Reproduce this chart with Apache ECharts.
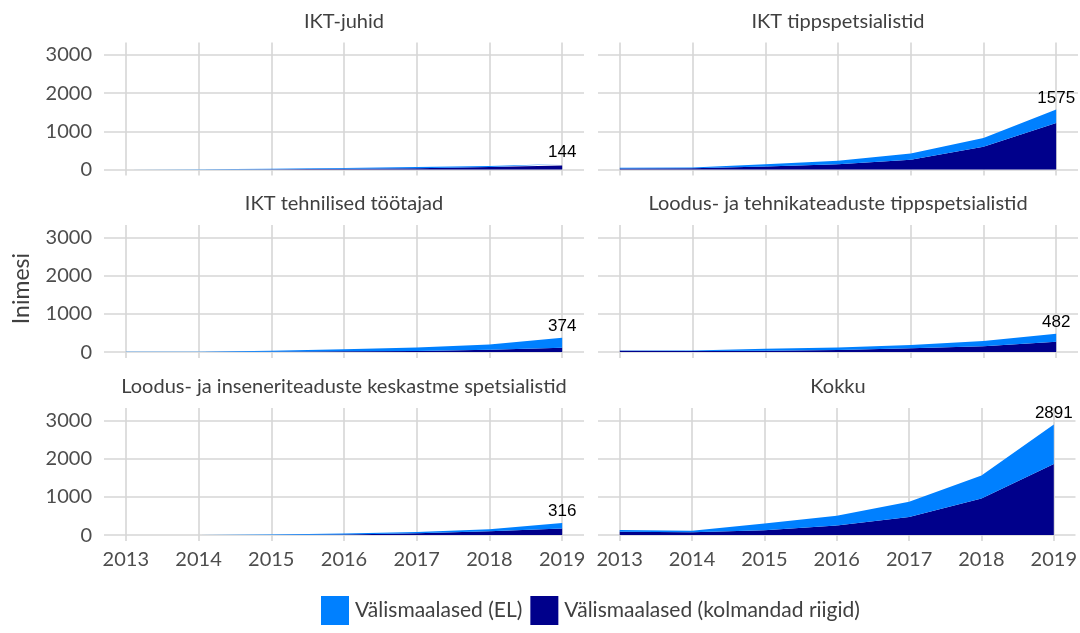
<!DOCTYPE html>
<html>
<head>
<meta charset="utf-8">
<title>Välismaalased</title>
<script src="https://cdn.jsdelivr.net/npm/echarts@6/dist/echarts.min.js"></script>
<style>
html, body { margin: 0; padding: 0; background: #fff; }
#chart { width: 1080px; height: 633px; }
</style>
</head>
<body>
<div id="chart"></div>
<script>
// andmed
const years = [2013, 2014, 2015, 2016, 2017, 2018, 2019];
const panelTitles = [
  'IKT-juhid',
  'IKT tippspetsialistid',
  'IKT tehnilised töötajad',
  'Loodus- ja tehnikateaduste tippspetsialistid',
  'Loodus- ja inseneriteaduste keskastme spetsialistid',
  'Kokku'
];
// kolmandad riigid (alumine kiht)
const thirdJuhid = [3, 5, 6, 20, 35, 70, 105];
const thirdTipp = [28, 35, 80, 140, 260, 600, 1218];
const thirdTehn = [4, 5, 6, 20, 30, 60, 112];
const thirdLoodusTipp = [35, 26, 35, 55, 100, 150, 270];
const thirdKesk = [3, 3, 4, 15, 45, 100, 172];
const thirdKokku = [85, 72, 125, 248, 470, 960, 1860];
// EL (ülemine kiht)
const elJuhid = [2, 5, 14, 20, 30, 25, 39];
const elTipp = [22, 20, 60, 90, 160, 227, 357];
const elTehn = [4, 5, 29, 55, 90, 140, 262];
const elLoodusTipp = [5, 14, 52, 65, 85, 137, 212];
const elKesk = [2, 2, 11, 25, 35, 50, 144];
const elKokku = [45, 43, 175, 257, 400, 600, 1031];
// 2019 kokku sildid
const totals2019 = [144, 1575, 374, 482, 316, 2891];
const yTicks = [0, 1000, 2000, 3000];

const thirdAll = [thirdJuhid, thirdTipp, thirdTehn, thirdLoodusTipp, thirdKesk, thirdKokku];
const elAll = [elJuhid, elTipp, elTehn, elLoodusTipp, elKesk, elKokku];

const nameEL = 'Välismaalased (EL)';
const nameThird = 'Välismaalased (kolmandad riigid)';
const colorEL = '#0080ff';
const colorThird = '#00008b';
const gridColor = '#d6d6d6';
const font = 'Lato';

const colLeft = [104, 598];
const colWidth = 480;
const rowTop = [42.5, 225, 408];
const rowHeight = 133;

let grids = [], xAxes = [], yAxes = [], series = [], titles = [];

// väärtus on esimene mõõde, et virnastamine käiks y järgi
function toData (vals) {
  return years.map((y, j) => [vals[j], y]);
}

for (let i = 0; i < 6; i++) {
  let col = i % 2;
  let row = Math.floor(i / 2);
  grids.push({
    left: colLeft[col], top: rowTop[row], width: colWidth, height: rowHeight,
    containLabel: false
  });
  titles.push({
    text: panelTitles[i],
    left: colLeft[col] + colWidth / 2,
    top: rowTop[row] - 31,
    textAlign: 'center',
    padding: 0,
    textStyle: { fontFamily: font, fontSize: 20, fontWeight: 'normal', color: '#404040' }
  });
  xAxes.push({
    type: 'value', gridIndex: i, min: 2012.7, max: 2019.3,
    axisLine: { show: false },
    axisTick: { show: false, customValues: years },
    axisLabel: {
      show: row === 2, customValues: years, margin: 9,
      fontFamily: font, fontSize: 20, color: '#4d4d4d',
      formatter: (v) => String(v)
    },
    splitLine: { show: true, lineStyle: { color: gridColor, width: 1.6 } }
  });
  yAxes.push({
    type: 'value', gridIndex: i, min: -155, max: 3325,
    axisLine: { show: false },
    axisTick: { show: false, customValues: yTicks },
    axisLabel: {
      show: col === 0, customValues: yTicks, margin: 12,
      fontFamily: font, fontSize: 20, color: '#4d4d4d',
      formatter: (v) => String(v)
    },
    splitLine: { show: true, lineStyle: { color: gridColor, width: 1.6 } }
  });
  series.push({
    name: nameThird, type: 'line', xAxisIndex: i, yAxisIndex: i,
    stack: 'g' + i, showSymbol: false, silent: true,
    encode: { x: 1, y: 0 },
    lineStyle: { width: 0 },
    itemStyle: { color: colorThird },
    areaStyle: { color: colorThird, opacity: 1 },
    data: toData(thirdAll[i])
  });
  series.push({
    name: nameEL, type: 'line', xAxisIndex: i, yAxisIndex: i,
    stack: 'g' + i, showSymbol: false, silent: true,
    encode: { x: 1, y: 0 },
    lineStyle: { width: 0 },
    itemStyle: { color: colorEL },
    areaStyle: { color: colorEL, opacity: 1 },
    endLabel: {
      show: true,
      formatter: String(totals2019[i]),
      align: 'center',
      verticalAlign: 'bottom',
      distance: 0,
      offset: [0, -3],
      fontFamily: 'Liberation Sans', fontSize: 17, color: '#000'
    },
    data: toData(elAll[i])
  });
}

const myChart = echarts.init(document.getElementById('chart'), null, { renderer: 'canvas' });
myChart.setOption({
  animation: false,
  backgroundColor: '#fff',
  title: titles,
  legend: {
    data: [nameEL, nameThird],
    bottom: 3,
    left: 316,
    itemWidth: 28,
    itemHeight: 29,
    itemGap: 8,
    icon: 'rect',
    textStyle: { fontFamily: font, fontSize: 21, color: '#404040', padding: [0, 0, 0, 1] }
  },
  graphic: [{
    type: 'text',
    left: 10,
    top: 253,
    rotation: Math.PI / 2,
    style: { text: 'Inimesi', fontFamily: font, fontSize: 23, fill: '#404040' }
  }],
  grid: grids,
  xAxis: xAxes,
  yAxis: yAxes,
  series: series
});
</script>
</body>
</html>
